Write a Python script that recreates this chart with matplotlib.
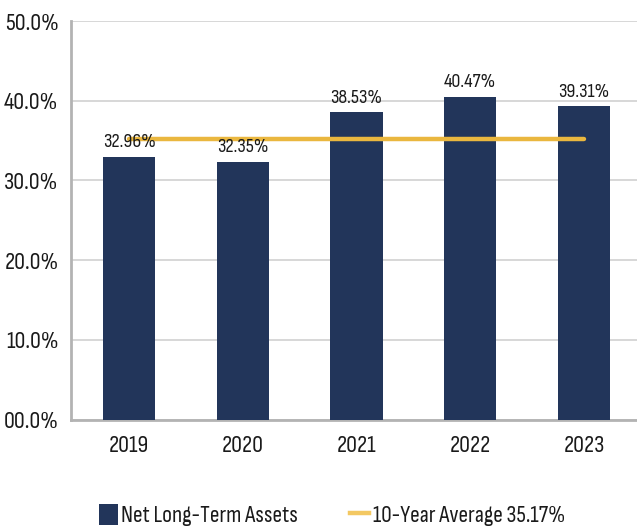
import matplotlib
matplotlib.use("Agg")
import matplotlib.pyplot as plt
from matplotlib.patches import Patch
from matplotlib.lines import Line2D

years = ["2019", "2020", "2021", "2022", "2023"]
values = [32.96, 32.35, 38.53, 40.47, 39.31]
avg_value = 35.17
bar_labels = ["32.96%", "32.35%", "38.53%", "40.47%", "39.31%"]
y_ticks = [0, 10, 20, 30, 40, 50]
y_tick_labels = ["00.0%", "10.0%", "20.0%", "30.0%", "40.0%", "50.0%"]
bar_series_name = "Net Long-Term Assets"
avg_series_name = "10-Year Average 35.17%"

plt.rcParams['font.family'] = ['Sofia Sans Condensed', 'DejaVu Sans']

bar_color = "#22355a"
line_color = "#eab73f"
legend_line_color = "#f3c862"
text_color = "#1a1a1a"

fig = plt.figure(figsize=(6.37, 5.29), dpi=100)
ax = fig.add_axes([71/637, 109.5/529, 1 - 71/637, (419.5-21)/529])

x = list(range(len(years)))
ax.bar(x, values, width=0.46, color=bar_color, zorder=3)
ax.plot([x[0], x[-1]], [avg_value, avg_value], color=line_color, lw=3.2,
        solid_capstyle='round', zorder=4)

for xi, v, lab in zip(x, values, bar_labels):
    ax.annotate(lab, (xi, v), xytext=(0, 4), textcoords='offset points',
                ha='center', va='bottom', fontsize=14.5, color=text_color, zorder=5)

ax.set_xlim(-0.51, 4.465)
ax.set_ylim(0, 50)
ax.set_yticks(y_ticks)
ax.set_yticklabels(y_tick_labels)
ax.set_xticks(x)
ax.set_xticklabels(years)
ax.tick_params(axis='both', length=0, labelsize=17.5, colors=text_color)
ax.tick_params(axis='y', pad=9)
ax.tick_params(axis='x', pad=11)

ax.grid(axis='y', color='#d4d4d4', lw=1.3, zorder=0)
ax.set_axisbelow(True)
for s in ['top', 'right']:
    ax.spines[s].set_visible(False)
for s in ['left', 'bottom']:
    ax.spines[s].set_color('#b3b3b3')
    ax.spines[s].set_linewidth(2)
    ax.spines[s].set_zorder(2)

handles = [Patch(facecolor=bar_color, edgecolor='none'),
           Line2D([0], [0], color=legend_line_color, lw=3.2)]
fig.legend(handles, [bar_series_name, avg_series_name], loc='center',
           bbox_to_anchor=(332/637, 1 - 515/529), ncol=2, frameon=False,
           fontsize=17, handlelength=0.8, handleheight=1.0, handletextpad=0.15,
           columnspacing=2.2, labelcolor=text_color)

fig.savefig("out.png", dpi=100)
